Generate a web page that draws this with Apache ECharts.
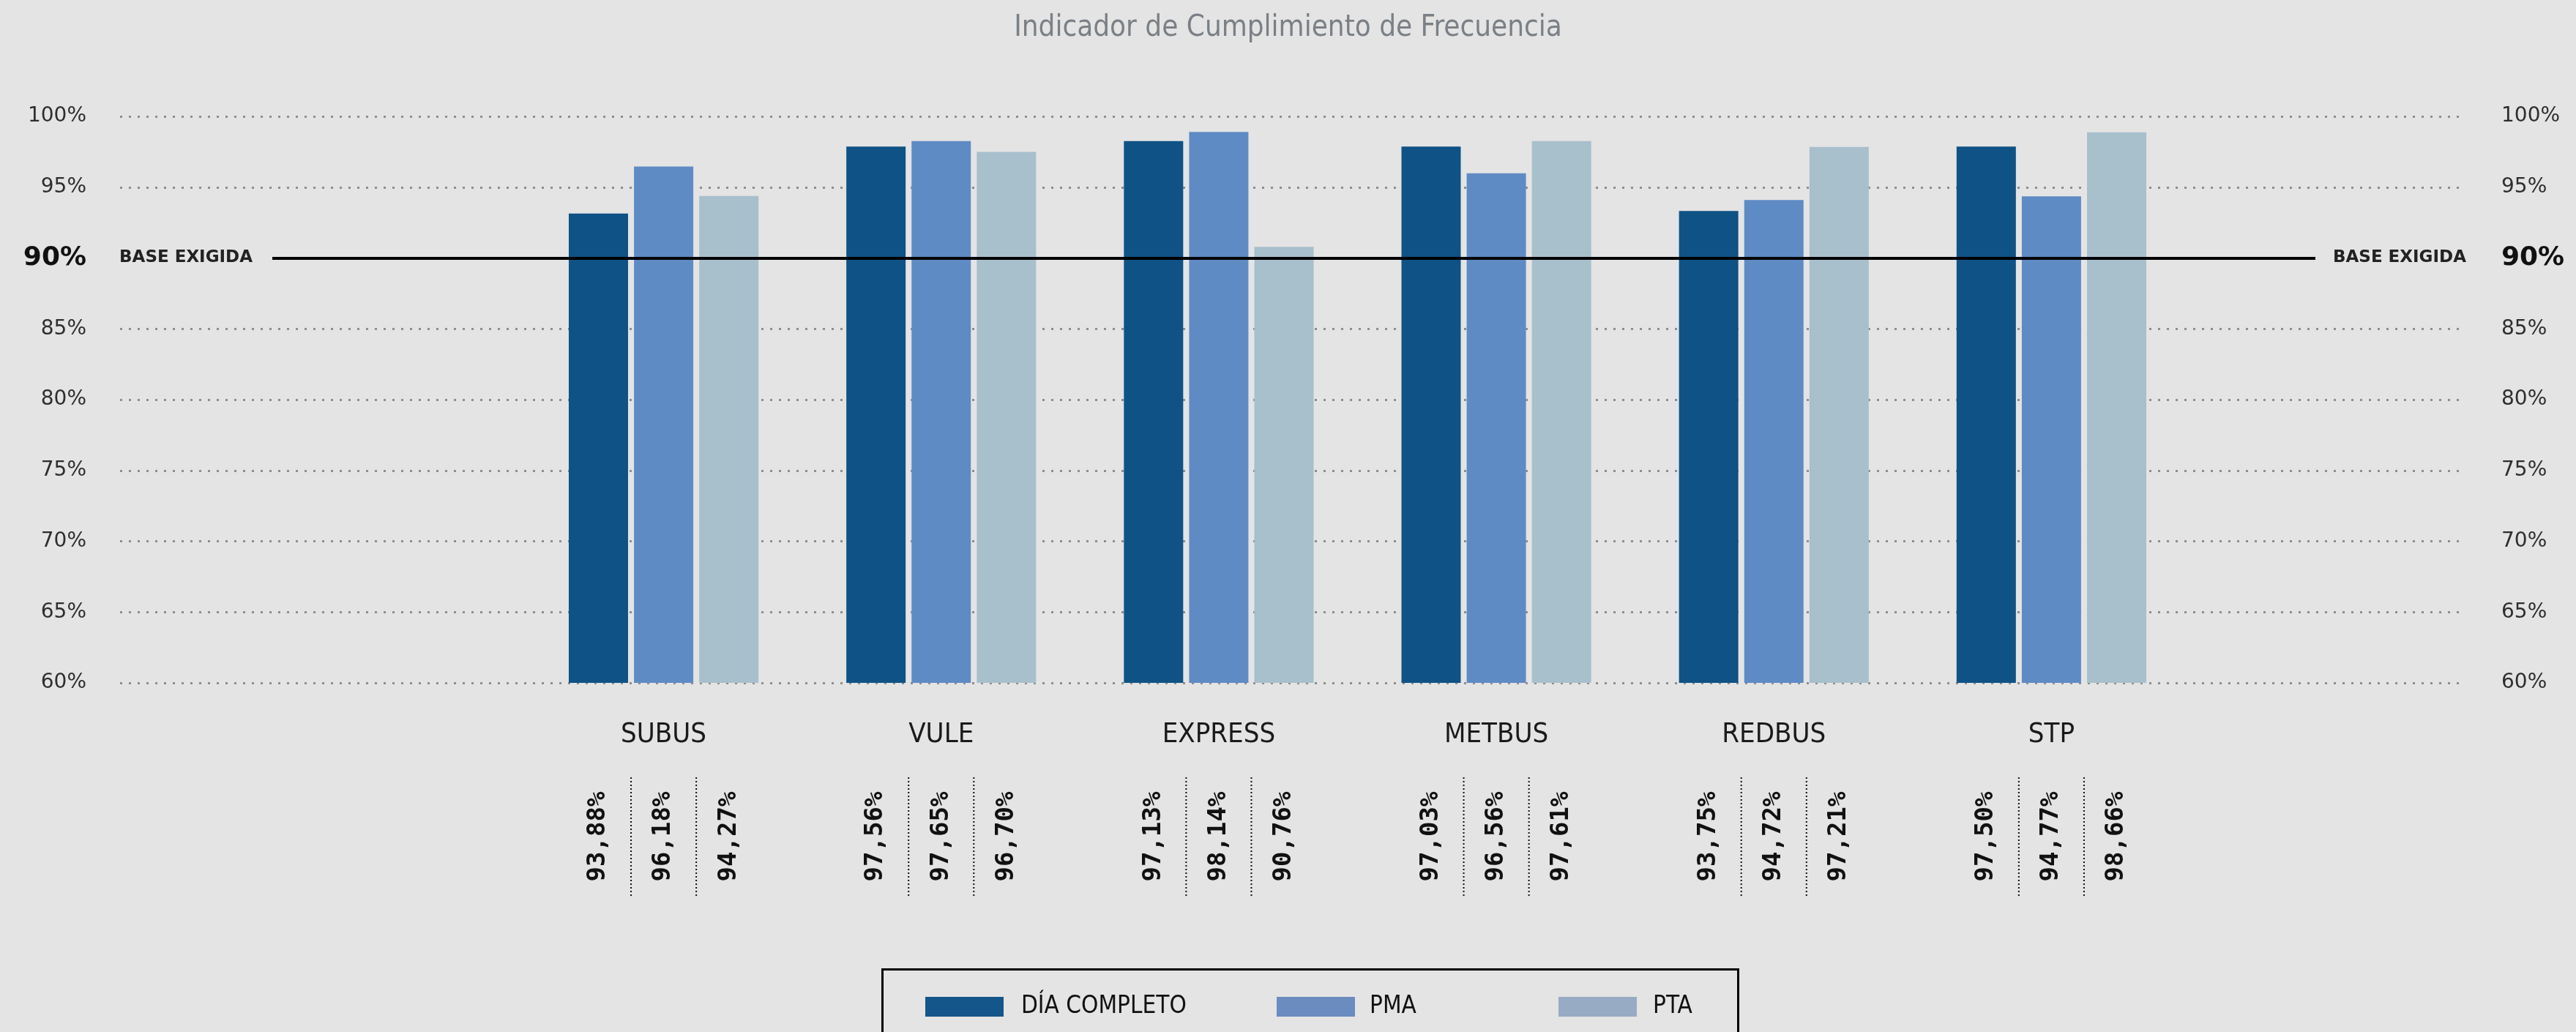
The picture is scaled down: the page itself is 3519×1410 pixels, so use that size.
<!DOCTYPE html>
<html><head><meta charset="utf-8">
<script src="https://cdn.jsdelivr.net/npm/echarts@6/dist/echarts.min.js"></script>
<style>html,body{margin:0;padding:0;background:#e4e4e4;}#c{width:3519px;height:1410px;}</style>
</head><body><div id="c"></div>
<script>
// ---- data ----
const categories = ['SUBUS', 'VULE', 'EXPRESS', 'METBUS', 'REDBUS', 'STP'];
const seriesNames = ['DÍA COMPLETO', 'PMA', 'PTA'];
const diaCompleto = [93.14, 97.87, 98.25, 97.87, 93.32, 97.87];
const pma = [96.46, 98.25, 98.90, 95.98, 94.09, 94.35];
const pta = [94.38, 97.49, 90.79, 98.25, 97.84, 98.87];
const diaCompletoLabels = ['93,88%', '97,56%', '97,13%', '97,03%', '93,75%', '97,50%'];
const pmaLabels = ['96,18%', '97,65%', '98,14%', '96,56%', '94,72%', '94,77%'];
const ptaLabels = ['94,27%', '96,70%', '90,76%', '97,61%', '97,21%', '98,66%'];
const yMin = 60, yMax = 100, yInterval = 5;
const yTicks = [60, 65, 70, 75, 80, 85, 90, 95, 100];
const baseExigida = 90;
const baseLabel = 'BASE EXIGIDA';
const titleText = 'Indicador de Cumplimiento de Frecuencia';

// ---- style ----
const barColors = ['#0f5285', '#5f8bc5', '#a8bfcc'];
const legendColors = ['#15568a', '#6a8cbf', '#97abc4'];
const NARROW = "'Liberation Sans Narrow', 'DejaVu Sans Condensed', 'Arial Narrow', sans-serif";
const BAR_W = 81, GAP_PCT = 10;
const STEP = BAR_W * (1 + GAP_PCT / 100);

const chart = echarts.init(document.getElementById('c'), null, {renderer: 'canvas'});

const valueSeries = [diaCompleto, pma, pta];
const labelSeries = [diaCompletoLabels, pmaLabels, ptaLabels];

const series = [];
valueSeries.forEach((vals, k) => {
  const s = {
    name: seriesNames[k], type: 'bar', xAxisIndex: 1, yAxisIndex: 2,
    data: vals, barWidth: BAR_W, barGap: GAP_PCT + '%',
    itemStyle: {color: barColors[k]}, silent: true, z: 3
  };
  if (k === 0) {
    s.markLine = {
      silent: true, symbol: 'none', animation: false, z: 5,
      lineStyle: {color: '#000', width: 4, type: 'solid'},
      data: [
        [{x: 372, yAxis: baseExigida, label: {show: true, position: 'start', formatter: baseLabel, distance: 27}}, {x: 3163, yAxis: baseExigida}],
        [{x: 372, yAxis: baseExigida, label: {show: true, position: 'end', formatter: baseLabel, distance: 24}}, {x: 3163, yAxis: baseExigida}]
      ],
      label: {fontFamily: 'DejaVu Sans', fontWeight: 'bold', fontSize: 23, color: '#222'}
    };
  }
  series.push(s);
});
labelSeries.forEach((labs, k) => {
  series.push({
    name: seriesNames[k] + ' etiqueta', type: 'bar', xAxisIndex: 2, yAxisIndex: 3,
    data: labs.map(() => 1), barWidth: BAR_W, barGap: GAP_PCT + '%',
    itemStyle: {color: 'rgba(0,0,0,0)'}, silent: true,
    label: {
      show: true, position: 'inside', rotate: 90,
      formatter: p => labs[p.dataIndex],
      fontFamily: "'DejaVu Sans Mono', monospace", fontWeight: 'bold', fontSize: 34, color: '#111'
    }
  });
});
series.push({
  type: 'custom', xAxisIndex: 2, yAxisIndex: 3, silent: true,
  data: categories.map((c, i) => [i]),
  encode: {x: 0},
  renderItem: (params, api) => {
    const i = api.value(0);
    const top = api.coord([i, 1]);
    const bot = api.coord([i, 0]);
    return {
      type: 'group',
      children: [-0.5, 0.5].map(f => ({
        type: 'line',
        shape: {x1: top[0] + f * STEP, y1: top[1], x2: top[0] + f * STEP, y2: bot[1]},
        style: {stroke: '#111', lineWidth: 2, lineDash: [2, 3]}
      }))
    };
  }
});

const yLabelRich = {
  a: {fontFamily: 'DejaVu Sans', fontSize: 28, color: '#2e2e2e'},
  b: {fontFamily: 'DejaVu Sans', fontSize: 36, fontWeight: 'bold', color: '#111'}
};
const yFmt = v => (v === baseExigida ? '{b|' + v + '%}' : '{a|' + v + '%}');

const legendDefs = [
  {left: 1264, text: 19},
  {left: 1744, text: 15},
  {left: 2129, text: 17}
];

const option = {
  backgroundColor: '#e4e4e4',
  animation: false,
  title: {
    text: titleText, left: 'center', top: 14,
    textStyle: {fontFamily: NARROW, fontWeight: 'normal', fontSize: 40, color: '#7b8086'}
  },
  legend: seriesNames.map((n, k) => ({
    data: [{name: n, itemStyle: {color: legendColors[k]}}],
    left: legendDefs[k].left, top: 1359, padding: 0,
    itemWidth: 107, itemHeight: 27, icon: 'rect', selectedMode: false,
    textStyle: {fontFamily: NARROW, fontSize: 33, color: '#111', padding: [0, 0, 0, legendDefs[k].text]}
  })),
  grid: [
    {left: 164, right: 153, top: 159, height: 774},
    {left: 717, right: 527, top: 159, height: 774},
    {left: 717, right: 527, top: 1062, height: 162}
  ],
  xAxis: [
    {type: 'value', gridIndex: 0, show: false, min: 0, max: 1},
    {type: 'category', gridIndex: 1, data: categories,
      axisLine: {show: false}, axisTick: {show: false},
      axisLabel: {margin: 52, fontFamily: NARROW, fontSize: 38, color: '#1a1a1a'}},
    {type: 'category', gridIndex: 2, data: categories, show: false}
  ],
  yAxis: [
    {type: 'value', gridIndex: 0, position: 'left', min: yMin, max: yMax, interval: yInterval,
      axisLine: {show: false}, axisTick: {show: false},
      axisLabel: {margin: 46, formatter: yFmt, rich: yLabelRich},
      splitLine: {show: true, lineStyle: {
        color: yTicks.map(v => (v === baseExigida ? 'rgba(0,0,0,0)' : '#8e8e8e')),
        width: 3, type: [3, 9]}}},
    {type: 'value', gridIndex: 0, position: 'right', min: yMin, max: yMax, interval: yInterval,
      axisLine: {show: false}, axisTick: {show: false}, splitLine: {show: false},
      axisLabel: {margin: 51, formatter: yFmt, rich: yLabelRich}},
    {type: 'value', gridIndex: 1, min: yMin, max: yMax, interval: yInterval, show: false, splitLine: {show: false}},
    {type: 'value', gridIndex: 2, min: 0, max: 1, show: false, splitLine: {show: false}}
  ],
  graphic: [{
    type: 'rect', left: 1203, top: 1322, silent: true,
    shape: {width: 1169, height: 120},
    style: {fill: 'none', stroke: '#000', lineWidth: 3}
  }],
  series: series
};
chart.setOption(option);
</script>
</body></html>
